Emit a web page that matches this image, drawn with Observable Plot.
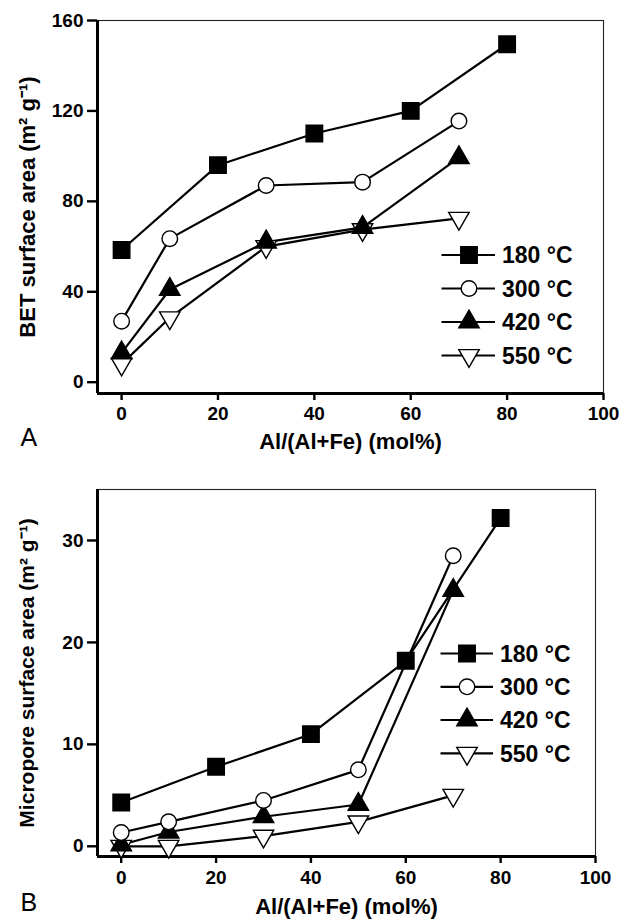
<!DOCTYPE html>
<html>
<head>
<meta charset="utf-8">
<script src="https://cdn.jsdelivr.net/npm/d3@7"></script>
<script src="https://cdn.jsdelivr.net/npm/@observablehq/plot@0.6"></script>
<style>
  html, body { margin: 0; padding: 0; background: #fff; }
  #wrap { position: relative; width: 621px; height: 919px; background: #fff; }
  #wrap > svg { position: absolute; left: 0; }
  .legend { position: absolute; left: 0; top: 0; }
</style>
</head>
<body>
<div id="wrap"></div>
<script>
// ---------- data ----------
const series = ["180 °C", "300 °C", "420 °C", "550 °C"];
const x180 = [0, 20, 40, 60, 80];
const xOther = [0, 10, 30, 50, 70];

// Panel A: BET surface area (m2 g-1)
const bet180 = [58.5, 96, 110, 120, 149.5];
const bet300 = [27, 63.5, 87, 88.5, 115.5];
const bet420 = [13, 41, 62, 68.5, 99.3];
const bet550 = [8, 28.5, 60, 67.5, 72.5];

// Panel B: Micropore surface area (m2 g-1)
const mic180 = [4.3, 7.8, 11, 18.2, 32.2];
const mic300 = [1.35, 2.4, 4.5, 7.5, 28.5];
const mic420 = [0.15, 1.4, 2.9, 4.1, 25.1];
const mic550 = [0, 0, 1.0, 2.4, 5.0];

const xTicks = [0, 20, 40, 60, 80, 100];
const yTicksA = [0, 40, 80, 120, 160];
const yTicksB = [0, 10, 20, 30];
const xLabel = "Al/(Al+Fe) (mol%)";
const yLabelA = "BET surface area (m² g⁻¹)";
const yLabelB = "Micropore surface area (m² g⁻¹)";

// ---------- symbols ----------
const invTriangle = {
  draw(context, size) {
    const y = Math.sqrt(size / (Math.sqrt(3) * 3));
    context.moveTo(0, y * 2);
    context.lineTo(-Math.sqrt(3) * y, -y);
    context.lineTo(Math.sqrt(3) * y, -y);
    context.closePath();
  }
};
const styles = [
  {symbol: "square", fill: "black", r: 9.3},
  {symbol: "circle", fill: "white", r: 7.8},
  {symbol: "triangle", fill: "black", r: 7.6},
  {symbol: invTriangle, fill: "white", r: 7.6}
];

function table(xs, ys) { return xs.map((x, i) => ({x, y: ys[i]})); }

const FONT = "'Liberation Sans', Arial, Helvetica, sans-serif";

function panel({sets, yDomain, yTicks, yLabel, letter, height, marginTop, marginBottom, marginRight, xLabelDy, letterDy, tickPad, yLabelSize}) {
  const lines = sets.map(d => Plot.line(d, {x: "x", y: "y", stroke: "black", strokeWidth: 2.2}));
  const dots = sets.map((d, i) => Plot.dot(d, {
    x: "x", y: "y", symbol: styles[i].symbol, r: styles[i].r,
    fill: styles[i].fill, stroke: "black", strokeWidth: 1.4
  })).reverse();
  return Plot.plot({
    width: 621, height, marginLeft: 97, marginRight, marginTop, marginBottom,
    x: {domain: [-5, 100]},
    y: {domain: yDomain},
    style: {fontFamily: FONT, fontWeight: "bold", fontSize: "19px", color: "black", background: "white", overflow: "visible"},
    marks: [
      Plot.frame({stroke: "#222", strokeWidth: 1.1}),
      Plot.axisX({ticks: xTicks, tickSize: 7, tickPadding: tickPad, strokeWidth: 2.4, label: null}),
      Plot.axisY({ticks: yTicks, tickSize: 10, tickPadding: 4, strokeWidth: 2.4, label: null}),
      Plot.ruleX([-5], {stroke: "black", strokeWidth: 3}),
      Plot.ruleY([yDomain[0]], {stroke: "black", strokeWidth: 3}),
      ...lines,
      ...dots,
      Plot.text([xLabel], {frameAnchor: "bottom", textAnchor: "middle", dy: xLabelDy, fontSize: 22, fontWeight: "bold"}),
      Plot.text([yLabel], {frameAnchor: "left", textAnchor: "middle", rotate: -90, dx: -70, fontSize: yLabelSize, fontWeight: "bold"}),
      Plot.text([letter], {frameAnchor: "bottom-left", textAnchor: "start", dx: -77, dy: letterDy, fontSize: 25, fontWeight: "normal"})
    ]
  });
}

const wrap = document.getElementById("wrap");

const svgA = panel({
  sets: [table(x180, bet180), table(xOther, bet300), table(xOther, bet420), table(xOther, bet550)],
  yDomain: [-5, 160], yTicks: yTicksA, yLabel: yLabelA, letter: "A",
  height: 460, marginTop: 20, marginBottom: 67, marginRight: 18, xLabelDy: 55, letterDy: 52, tickPad: 6, yLabelSize: 22
});
svgA.style.top = "0px";
wrap.appendChild(svgA);

const svgB = panel({
  sets: [table(x180, mic180), table(xOther, mic300), table(xOther, mic420), table(xOther, mic550)],
  yDomain: [-1, 35], yTicks: yTicksB, yLabel: yLabelB, letter: "B",
  height: 459, marginTop: 29, marginBottom: 63, marginRight: 26, xLabelDy: 57, letterDy: 54, tickPad: 7, yLabelSize: 21
});
svgB.style.top = "460px";
wrap.appendChild(svgB);

// ---------- legends ----------
function legend({x0, x1, mx, tx, ys}) {
  const svg = d3.select(wrap).append("svg").attr("class", "legend")
    .attr("width", 621).attr("height", 919)
    .style("font-family", FONT).style("font-weight", "bold");
  series.forEach((name, i) => {
    const g = svg.append("g");
    g.append("line").attr("x1", x0).attr("x2", x1).attr("y1", ys[i]).attr("y2", ys[i])
      .attr("stroke", "black").attr("stroke-width", 2.2);
    const st = styles[i];
    const sym = typeof st.symbol === "string"
      ? {square: d3.symbolSquare, circle: d3.symbolCircle, triangle: d3.symbolTriangle}[st.symbol]
      : st.symbol;
    g.append("path").attr("d", d3.symbol(sym, st.r * st.r * Math.PI)())
      .attr("transform", `translate(${mx},${ys[i]})`)
      .attr("fill", st.fill).attr("stroke", "black").attr("stroke-width", 1.4);
    g.append("text").attr("x", tx).attr("y", ys[i]).attr("dy", "0.36em")
      .attr("font-size", 23).text(name);
  });
}
legend({x0: 441.5, x1: 495, mx: 469, tx: 502, ys: [255, 288.5, 322, 355.5]});
legend({x0: 440.5, x1: 493, mx: 467, tx: 500, ys: [653.5, 686.8, 720, 753.3]});
</script>
</body>
</html>
